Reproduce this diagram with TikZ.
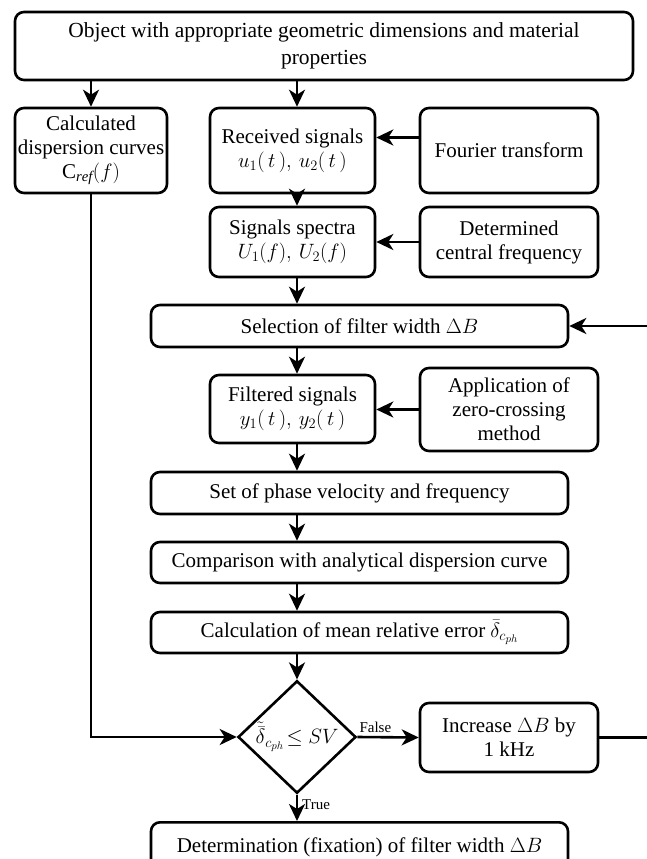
\documentclass[tikz,border=0pt]{standalone}
\usepackage{fontspec}
\setmainfont{Liberation Serif}
\usetikzlibrary{arrows.meta,shapes.geometric}
\begin{document}
\begin{tikzpicture}[x=1pt,y=1pt,
  box/.style={draw, line width=2.6pt, rounded corners=9pt, align=center,
    font=\fontsize{21}{24}\selectfont, inner sep=0pt, fill=white},
  arr/.style={line width=2.6pt, -{Stealth[length=17pt,width=16pt,inset=5pt]}},
  lbl/.style={font=\fontsize{15}{17}\selectfont, inner sep=1pt}]
\useasboundingbox (0,0) rectangle (647,-859);
\fill[white] (0,0) rectangle (647,-859);

\node[box, minimum width=618pt, minimum height=68pt, font=\fontsize{21.5}{27}\selectfont] (top) at (324,-46)
  {Object with appropriate geometric dimensions and material\\properties};
\node[box, minimum width=152pt, minimum height=85pt] (calc) at (91,-150.5)
  {Calculated\\dispersion curves\\C$_{\mathit{ref}}(f)$};
\node[box, minimum width=165pt, minimum height=85pt] (recv) at (292.5,-150.5)
  {Received signals\\$u_1(\,t\,),\, u_2(\,t\,)$};
\node[box, minimum width=178pt, minimum height=85pt] (four) at (509,-150.5)
  {Fourier transform};
\node[box, minimum width=165pt, minimum height=70pt] (spec) at (292.5,-242)
  {Signals spectra\\$U_1(f),\, U_2(f)$};
\node[box, minimum width=178pt, minimum height=70pt] (cent) at (509,-242)
  {Determined\\central frequency};
\node[box, minimum width=417pt, minimum height=42pt] (sel) at (359.5,-326)
  {Selection of filter width $\Delta B$};
\node[box, minimum width=165pt, minimum height=68pt] (filt) at (292.5,-409)
  {Filtered signals\\$y_1(\,t\,),\, y_2(\,t\,)$};
\node[box, minimum width=178pt, minimum height=83pt] (zero) at (509,-409.5)
  {Application of\\zero-crossing\\method};
\node[box, minimum width=417pt, minimum height=42pt] (setp) at (359.5,-493)
  {Set of phase velocity and frequency};
\node[box, minimum width=417pt, minimum height=41pt] (comp) at (359.5,-562.5)
  {Comparison with analytical dispersion curve};
\node[box, minimum width=417pt, minimum height=41pt] (err) at (359.5,-632.5)
  {Calculation of mean relative error $\bar{\delta}_{c_{ph}}$};
\node[draw, line width=2.6pt, diamond, minimum width=118pt, minimum height=110pt,
  inner sep=0pt, font=\fontsize{21}{24}\selectfont] (dia) at (297,-737)
  {$\tilde{\bar{\delta}}_{c_{ph}}\! \leq SV$};
\node[box, minimum width=178pt, minimum height=69pt] (inc) at (509,-737.5)
  {Increase $\Delta B$ by\\1 kHz};
\node[box, minimum width=417pt, minimum height=50pt, anchor=north] (det) at (359.5,-821)
  {Determination (fixation) of filter width $\Delta B$};

\coordinate (rb) at (650,0);

\draw[arr] (top.south -| calc.north) -- (calc.north);
\draw[arr] (top.south -| dia.north) -- (recv.north -| dia.north);
\draw[arr] ([yshift=13pt]four.west) -- ([yshift=13pt]recv.east);
\draw[arr] (recv.south -| dia.north) -- (spec.north -| dia.north);
\draw[arr] (cent.west) -- (spec.east);
\draw[arr] (spec.south -| dia.north) -- (sel.north -| dia.north);
\draw[arr] (sel.south -| dia.north) -- (filt.north -| dia.north);
\draw[arr] (zero.west) -- (zero.west -| filt.east);
\draw[arr] (filt.south -| dia.north) -- (setp.north -| dia.north);
\draw[arr] (setp.south -| dia.north) -- (comp.north -| dia.north);
\draw[arr] (comp.south -| dia.north) -- (err.north -| dia.north);
\draw[arr] (err.south -| dia.north) -- (dia.north);
\draw[arr] (calc.south) |- (dia.west);
\draw[arr] (dia.east) -- (inc.west);
\draw[arr] (dia.south) -- (det.north -| dia.south);
\draw[arr] (inc.east) -- (inc.east -| rb) |- (sel.east);

\node[lbl, anchor=south west] (fl) at ([xshift=1pt,yshift=3pt]dia.east) {False};
\node[lbl, anchor=west] (tl) at ([xshift=4pt,yshift=-10pt]dia.south) {True};
\end{tikzpicture}
\end{document}
